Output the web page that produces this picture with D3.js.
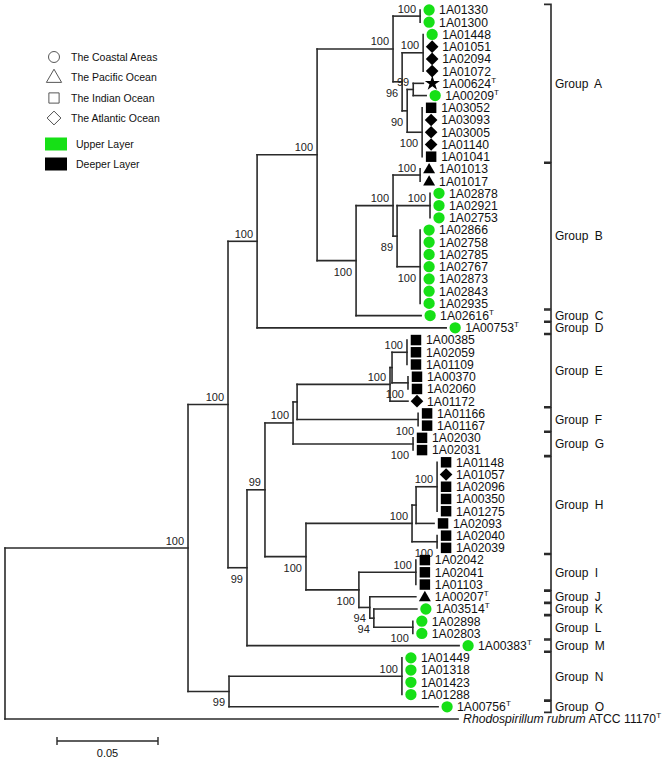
<!DOCTYPE html>
<html><head><meta charset="utf-8">
<script src="https://cdn.jsdelivr.net/npm/d3@7"></script>
<style>
body{margin:0;background:#fff}
text{font-family:Arial,"Liberation Sans",sans-serif}
</style>
</head><body>
<svg id="chart" width="670" height="763"></svg>
<script>
// ---- internal nodes: [id, parent, branch length, bootstrap] ----
const internalNodes = [
 ["root","",0,null],
 ["n188","root",0.0906,100],
 ["n228","n188",0.0198,100],
 ["nNO","n188",0.0203,99],
 ["n257","n228",0.0144,100],
 ["n247","n228",0.0094,99],
 ["n317","n257",0.0297,100],
 ["nA","n317",0.0376,100],
 ["nBC","n317",0.0193,100],
 ["nA1","nA",0.0134,100],
 ["nA96","nA",0.0045,96],
 ["nA2","nA96",0.0104,100],
 ["nA90","nA96",0.0025,90],
 ["nA99","nA90",0.0030,99],
 ["nA3","nA90",0.0074,100],
 ["nB","nBC",0.0183,100],
 ["nB1","nB",0.0134,100],
 ["nB89","nB",0.0020,89],
 ["nB2","nB89",0.0163,100],
 ["nB3","nB89",0.0114,100],
 ["n265","n247",0.0089,99],
 ["nEFG","n265",0.0139,100],
 ["nHL","n265",0.0203,100],
 ["nEF","nEFG",0.0020,null],
 ["nG","nEFG",0.0594,100],
 ["nE","nEF",0.0460,100],
 ["nF","nEF",0.0599,100],
 ["nE12","nE",0.0010,null],
 ["nE1","nE12",0.0074,100],
 ["nE2","nE12",0.0079,100],
 ["nH","nHL",0.0525,100],
 ["nIL","nHL",0.0262,100],
 ["nHQ","nH",0.0020,null],
 ["nHP","nHQ",0.0104,100],
 ["nHR","nH",0.0124,100],
 ["nI","nIL",0.0282,100],
 ["nJL","nIL",0.0054,94],
 ["nKL","nJL",0.0020,94],
 ["nL","nKL",0.0193,100],
 ["nN","nNO",0.0856,100]
];
const labelBelow = ["nA96","nA90","nA3","nBC","nB89","nB3","n247","nE2","nF","nG","nHL","nHR","nIL","nJL","nKL","nL","nNO"];

// ---- leaves (top to bottom) ----
const leafNames = ["1A01330","1A01300","1A01448","1A01051","1A02094","1A01072","1A00624","1A00209","1A03052","1A03093","1A03005","1A01140","1A01041",
 "1A01013","1A01017","1A02878","1A02921","1A02753","1A02866","1A02758","1A02785","1A02767","1A02873","1A02843","1A02935",
 "1A02616","1A00753",
 "1A00385","1A02059","1A01109","1A00370","1A02060","1A01172",
 "1A01166","1A01167","1A02030","1A02031",
 "1A01148","1A01057","1A02096","1A00350","1A01275","1A02093","1A02040","1A02039",
 "1A02042","1A02041","1A01103","1A00207","1A03514","1A02898","1A02803","1A00383",
 "1A01449","1A01318","1A01423","1A01288","1A00756","Rhodospirillum rubrum"];
const leafParents = ["nA1","nA1","nA2","nA2","nA2","nA2","nA99","nA99","nA3","nA3","nA3","nA3","nA3",
 "nB1","nB1","nB2","nB2","nB2","nB3","nB3","nB3","nB3","nB3","nB3","nB3",
 "nBC","n257",
 "nE1","nE1","nE1","nE2","nE2","nE",
 "nF","nF","nG","nG",
 "nHP","nHP","nHP","nHP","nHP","nHQ","nHR","nHR",
 "nI","nI","nI","nJL","nKL","nL","nL","n247",
 "nN","nN","nN","nN","nNO","root"];
const leafLengths = [0,0,0,0,0,0,0.0050,0.0064,0,0,0,0,0,
 0,0,0,0,0,0,0,0,0,0,0,0,
 0.0322,0.0936,
 0,0,0,0,0,0.0089,
 0,0,0,0,
 0,0,0,0,0,0.0089,0,0,
 0,0,0,0.0228,0.0213,0,0,0.1050,
 0,0,0,0,0.1035,0.2243];
// C coastal, P pacific, I indian, A atlantic, S other (star), N none
const leafRegions = ["C","C","C","A","A","A","S","C","I","A","A","A","I",
 "P","P","C","C","C","C","C","C","C","C","C","C",
 "C","C",
 "I","I","I","I","I","A",
 "I","I","I","I",
 "I","A","I","I","I","I","I","I",
 "I","I","I","P","C","C","C","C",
 "C","C","C","C","C","N"];
// U upper layer, D deeper layer
const leafLayers = ["U","U","U","D","D","D","D","U","D","D","D","D","D",
 "D","D","U","U","U","U","U","U","U","U","U","U",
 "U","U",
 "D","D","D","D","D","D",
 "D","D","D","D",
 "D","D","D","D","D","D","D","D",
 "D","D","D","D","U","U","U","U",
 "U","U","U","U","U","N"];
const typeStrains = ["1A00624","1A00209","1A02616","1A00753","1A00207","1A03514","1A00383","1A00756","Rhodospirillum rubrum"];

const groupNames = ["A","B","C","D","E","F","G","H","I","J","K","L","M","N","O"];
const groupSizes = [13,12,1,1,6,2,2,8,3,1,1,2,1,4,1];

const regionLegend = [["C","The Coastal Areas"],["P","The Pacific Ocean"],["I","The Indian Ocean"],["A","The Atlantic Ocean"]];
const layerLegend = [["U","Upper Layer"],["D","Deeper Layer"]];
const scaleBarValue = 0.05;

// ---- scales & styles ----
const GREEN = "#16e016", BLACK = "#000", LINE = "#2a2a2a";
const x = d3.scaleLinear().domain([0, 0.05]).range([5, 106]);
const y = d3.scaleLinear().domain([0, leafNames.length - 1]).range([10, 719]);
const layerColor = d3.scaleOrdinal().domain(["U","D"]).range([GREEN, BLACK]);
const symFor = {C:{t:d3.symbolCircle,s:100,r:0},P:{t:d3.symbolTriangle,s:62,r:0},I:{t:d3.symbolSquare,s:110,r:0},A:{t:d3.symbolSquare,s:80,r:45},S:{t:d3.symbolStar,s:70,r:0}};

const svg = d3.select("#chart");

// ---- build tree ----
const rows = internalNodes.map(d => ({id:d[0], parentId:d[1] || null, len:d[2], bs:d[3]}));
leafNames.forEach((n, i) => rows.push({id:n, parentId:leafParents[i], len:leafLengths[i], leaf:i}));
const root = d3.stratify().id(d => d.id).parentId(d => d.parentId)(rows);
root.eachBefore(n => { n.dist = n.parent ? n.parent.dist + n.data.len : 0; });
root.eachAfter(n => {
  if (n.children) {
    const ys = n.children.map(c => c.py);
    n.y0 = d3.min(ys); n.y1 = d3.max(ys); n.py = (n.y0 + n.y1) / 2;
  } else n.py = y(n.data.leaf);
});

const g = svg.append("g");
g.selectAll("line.h").data(root.descendants().filter(n => n.parent && n.data.len > 0))
 .join("line").attr("class","h")
 .attr("x1", n => x(n.parent.dist)).attr("x2", n => x(n.dist))
 .attr("y1", n => n.py).attr("y2", n => n.py)
 .attr("stroke", LINE).attr("stroke-width", 1.6).attr("stroke-linecap","square");
g.selectAll("line.v").data(root.descendants().filter(n => n.children))
 .join("line").attr("class","v")
 .attr("x1", n => x(n.dist)).attr("x2", n => x(n.dist))
 .attr("y1", n => n.y0).attr("y2", n => n.y1)
 .attr("stroke", LINE).attr("stroke-width", 1.6).attr("stroke-linecap","square");

g.selectAll("text.bs").data(root.descendants().filter(n => n.data.bs != null))
 .join("text").attr("class","bs")
 .attr("x", n => x(n.dist) - 4)
 .attr("y", n => labelBelow.includes(n.id) ? n.py + 15 : n.py - 3.5)
 .attr("text-anchor","end").attr("font-size", 11).attr("fill","#222")
 .text(n => n.data.bs);

const leaves = root.leaves();
leaves.forEach(n => {
  const i = n.data.leaf;
  const reg = leafRegions[i];
  const lx = x(n.dist);
  if (reg !== "N") {
    const s = symFor[reg];
    g.append("path")
     .attr("d", d3.symbol().type(s.t).size(s.s)())
     .attr("transform", `translate(${lx + 9},${n.py + (reg === "P" ? 1 : 0)}) rotate(${s.r})`)
     .attr("fill", layerColor(leafLayers[i]));
    const t = g.append("text").attr("x", lx + 19).attr("y", n.py).attr("dy","0.36em")
     .attr("font-size", 12.2).attr("fill","#111").text(leafNames[i]);
    if (typeStrains.includes(leafNames[i]))
      t.append("tspan").attr("font-size", 8).attr("dy", -5).text("T");
  } else {
    const t = g.append("text").attr("x", lx + 5).attr("y", n.py).attr("dy","0.36em")
     .attr("font-size", 12.2).attr("fill","#111");
    t.append("tspan").attr("font-style","italic").text(leafNames[i]);
    t.append("tspan").text(" ATCC 11170");
    if (typeStrains.includes(leafNames[i]))
      t.append("tspan").attr("font-size", 8).attr("dy", -5).text("T");
  }
});

const bx = 551;
let start = 0;
groupNames.forEach((name, gi) => {
  const a = start, b = start + groupSizes[gi] - 1;
  start += groupSizes[gi];
  const top = y(a) - 5.6, bot = y(b) + 5.6;
  const gg = svg.append("g");
  gg.append("path").attr("d", `M${bx-7},${top}H${bx}V${bot}H${bx-7}`)
    .attr("fill","none").attr("stroke", LINE).attr("stroke-width", 1.6);
  gg.append("text").attr("x", bx + 4).attr("y", (y(a) + y(b)) / 2).attr("dy","0.36em")
    .attr("font-size", 12).attr("word-spacing", 3).attr("fill","#111").text("Group " + name);
});

const leg = svg.append("g");
regionLegend.forEach((d, i) => {
  const cy = [57, 77, 98, 118][i];
  const s = symFor[d[0]];
  leg.append("path").attr("d", d3.symbol().type(s.t).size(d[0]==="P"?100:d[0]==="A"?95:d[0]==="I"?105:95)())
    .attr("transform", `translate(54,${cy + (d[0]==="P"?1:0)}) rotate(${s.r})`)
    .attr("fill","none").attr("stroke","#444").attr("stroke-width",0.9);
  leg.append("text").attr("x", 71).attr("y", cy).attr("dy","0.36em")
    .attr("font-size", 10.5).attr("fill","#111").text(d[1]);
});
layerLegend.forEach((d, i) => {
  const cy = [144, 164][i];
  leg.append("rect").attr("x", 45).attr("y", cy - 6.5).attr("width", 22).attr("height", 13)
    .attr("fill", layerColor(d[0]));
  leg.append("text").attr("x", 76).attr("y", cy).attr("dy","0.36em")
    .attr("font-size", 10.5).attr("fill","#111").text(d[1]);
});

const sbx = 57, sby = 741, sbw = x(scaleBarValue) - x(0);
const sb = svg.append("g");
sb.append("path").attr("d", `M${sbx},${sby}H${sbx+sbw}M${sbx},${sby-4}V${sby+4}M${sbx+sbw},${sby-4}V${sby+4}`)
  .attr("stroke", LINE).attr("stroke-width", 1.4).attr("fill","none");
sb.append("text").attr("x", sbx + sbw/2).attr("y", sby + 12).attr("dy","0.36em")
  .attr("text-anchor","middle").attr("font-size", 11).attr("fill","#111").text(scaleBarValue.toFixed(2));
</script>
</body></html>
